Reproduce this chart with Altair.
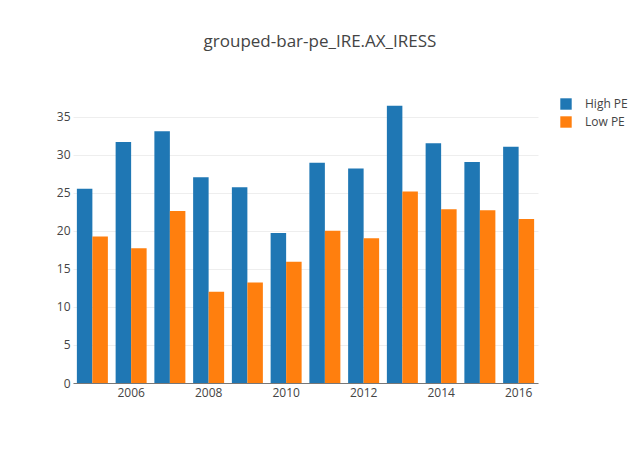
import altair as alt
import pandas as pd

years = [2005, 2006, 2007, 2008, 2009, 2010, 2011, 2012, 2013, 2014, 2015, 2016]
high_pe = [25.55, 31.68, 33.08, 27.04, 25.73, 19.73, 28.96, 28.18, 36.45, 31.5, 29.05, 31.07]
low_pe = [19.25, 17.72, 22.62, 11.99, 13.21, 15.93, 20.0, 19.03, 25.16, 22.84, 22.71, 21.57]
series_names = ["High PE", "Low PE"]
colors = ["#1f77b4", "#ff7f0e"]
x_ticks = [2006, 2008, 2010, 2012, 2014, 2016]
y_ticks = [0, 5, 10, 15, 20, 25, 30, 35]

rows = []
for i, y in enumerate(years):
    rows.append({"year": y, "series": series_names[0], "value": high_pe[i]})
    rows.append({"year": y, "series": series_names[1], "value": low_pe[i]})
df = pd.DataFrame(rows)

FONT = "Open Sans"

chart = alt.Chart(df).mark_bar().encode(
    x=alt.X("year:O",
            scale=alt.Scale(paddingInner=0.2, paddingOuter=0.1),
            axis=alt.Axis(values=x_ticks, title=None, labelAngle=0, ticks=False,
                          domainColor="#777", domainWidth=1, labelPadding=4,
                          labelColor="#444", labelFontSize=12, labelFont=FONT)),
    xOffset=alt.XOffset("series:N", sort=series_names),
    y=alt.Y("value:Q",
            scale=alt.Scale(domain=[0, 37.2], nice=False),
            axis=alt.Axis(values=y_ticks, title=None, domain=False, ticks=False,
                          gridColor="#eeeeee", gridWidth=1, labelPadding=3,
                          labelColor="#444", labelFontSize=12, labelFont=FONT)),
    color=alt.Color("series:N", sort=series_names,
                    scale=alt.Scale(domain=series_names, range=colors),
                    legend=alt.Legend(title=None, orient="none", legendX=487, legendY=-2,
                                      symbolType="square", symbolSize=130,
                                      symbolStrokeWidth=0, labelOffset=13,
                                      rowPadding=6, padding=0,
                                      labelFont=FONT, labelFontSize=12,
                                      labelColor="#444")),
).properties(
    width=465,
    height=283,
    autosize=alt.AutoSizeParams(type="none"),
    padding={"left": 65, "top": 92, "right": 92, "bottom": 50},
    title=alt.TitleParams("grouped-bar-pe_IRE.AX_IRESS", font=FONT, fontSize=17,
                          fontWeight="normal", color="#444", anchor="middle",
                          frame="group", dx=14.5, offset=34, baseline="alphabetic"),
).configure_view(stroke=None)

chart.save("out.html", embed_options={"renderer": "svg", "actions": False})
